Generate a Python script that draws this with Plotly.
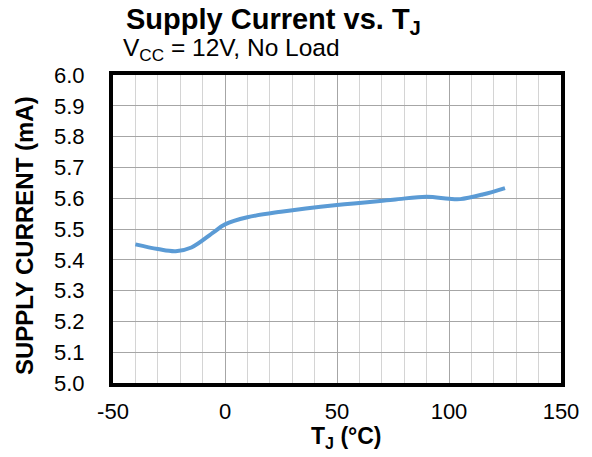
import plotly.graph_objects as go

temp_c = [-40, -30, -22, -15, -5, 0, 10, 25, 50, 75, 90, 100, 105, 115, 125]
supply_ma = [5.450, 5.435, 5.428, 5.440, 5.490, 5.515, 5.538, 5.556, 5.578, 5.595, 5.605, 5.598, 5.597, 5.612, 5.633]

x_ticks = [-50, 0, 50, 100, 150]
y_ticks = [5.0, 5.1, 5.2, 5.3, 5.4, 5.5, 5.6, 5.7, 5.8, 5.9, 6.0]

FONT = "Liberation Sans, Arial, sans-serif"

fig = go.Figure()
fig.add_trace(go.Scatter(
    x=temp_c, y=supply_ma, mode="lines",
    line=dict(color="#5b9bd5", width=4, shape="spline", smoothing=1.0),
    showlegend=False, hoverinfo="skip",
))

# the page body has an 8px margin, so the figure is 8px smaller and margins shifted
fig.update_layout(
    width=584, height=449,
    margin=dict(l=105, r=31, t=67, b=74, autoexpand=False),
    paper_bgcolor="white", plot_bgcolor="white",
    font=dict(family=FONT, color="black", size=22),
    annotations=[
        dict(text="<b>Supply Current vs. T<sub>J</sub></b>", xref="paper", yref="paper",
             x=0.025, y=1.176, xanchor="left", yanchor="middle", showarrow=False,
             font=dict(size=29, family=FONT, color="black")),
        dict(text="V<sub>CC</sub> = 12V, No Load", xref="paper", yref="paper",
             x=0.017, y=1.082, xanchor="left", yanchor="middle", showarrow=False,
             font=dict(size=24.5, family=FONT, color="black")),
        dict(text="<b>SUPPLY CURRENT (mA)</b>", xref="paper", yref="paper",
             x=-0.198, y=0.478, xanchor="center", yanchor="middle", textangle=-90,
             showarrow=False, font=dict(size=24, family=FONT, color="black")),
        dict(text="<b>T<sub>J</sub> (°C)</b>", xref="paper", yref="paper",
             x=0.522, y=-0.176, xanchor="center", yanchor="middle",
             showarrow=False, font=dict(size=23, family=FONT, color="black")),
    ],
)

fig.update_xaxes(
    range=[-50, 150], tickvals=x_ticks, ticktext=[str(v) for v in x_ticks],
    showgrid=True, gridcolor="#a6a6a6", gridwidth=1,
    minor=dict(dtick=10, showgrid=True, gridcolor="#d4d4d4", gridwidth=1),
    showline=True, linecolor="black", linewidth=4, mirror=True,
    zeroline=False, ticks="", ticklabelstandoff=6,
    tickfont=dict(size=22),
)
fig.update_yaxes(
    range=[5.0, 6.0], tickvals=y_ticks, ticktext=[f"{v:.1f}" for v in y_ticks],
    showgrid=True, gridcolor="#a6a6a6", gridwidth=1,
    showline=True, linecolor="black", linewidth=4, mirror=True,
    zeroline=False, ticks="", ticklabelstandoff=20,
    tickfont=dict(size=22),
)

fig.write_html("out.html")
